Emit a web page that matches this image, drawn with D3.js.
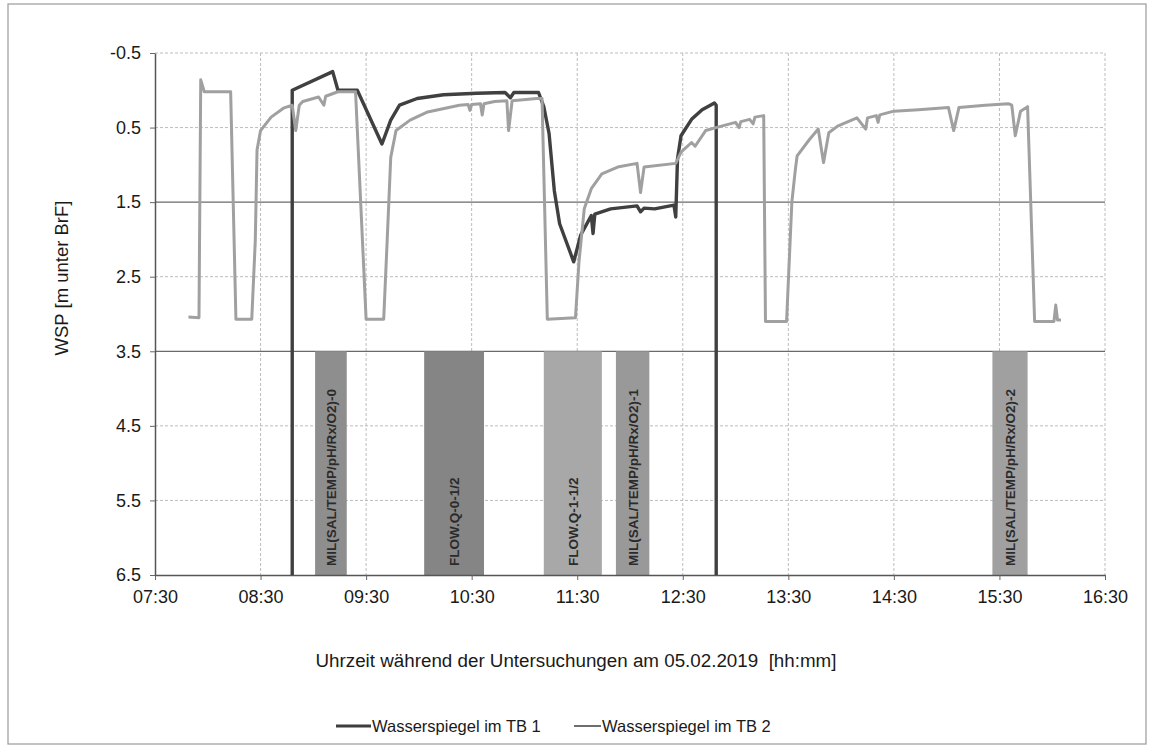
<!DOCTYPE html>
<html>
<head>
<meta charset="utf-8">
<script src="https://cdn.jsdelivr.net/npm/d3@7"></script>
<style>
  body { margin: 0; background: #fff; }
  text { font-family: Arial, "Liberation Sans", sans-serif; fill: #1a1a1a; }
</style>
</head>
<body>
<div id="chart"></div>
<script>
// water level in TB 1 (time, m below BrF)
var tb1Times = ["08:48","08:48","09:11","09:14","09:25","09:39","09:44","09:49","09:59","10:14","10:33","10:49","10:52","10:54","11:08","11:11","11:14","11:17","11:20","11:28","11:32","11:38","11:39","11:40","11:49","12:04","12:06","12:08","12:14","12:25","12:26","12:27","12:29","12:35","12:41","12:48","12:49","12:49"];
var tb1Values = [6.5,0.0,-0.25,0.0,0.0,0.72,0.4,0.2,0.11,0.06,0.04,0.03,0.1,0.03,0.03,0.22,0.58,1.35,1.79,2.3,1.94,1.68,1.92,1.66,1.59,1.55,1.63,1.58,1.59,1.54,1.7,0.92,0.61,0.39,0.26,0.17,0.2,6.5];

// water level in TB 2
var tb2Times = ["07:49","07:55","07:56","07:58","08:13","08:16","08:25","08:27","08:28","08:30","08:36","08:43","08:48","08:50","08:52","08:54","09:03","09:06","09:07","09:14","09:24","09:30","09:40","09:42","09:44","09:47","09:55","10:05","10:23","10:28","10:29","10:30","10:35","10:36","10:37","10:43","10:50","10:51","10:53","11:07","11:10","11:13","11:29","11:31","11:34","11:38","11:44","11:53","12:04","12:06","12:08","12:26","12:29","12:35","12:37","12:43","12:52","13:00","13:02","13:03","13:08","13:10","13:11","13:16","13:17","13:29","13:32","13:34","13:35","13:42","13:47","13:50","13:53","13:58","14:09","14:14","14:15","14:20","14:21","14:22","14:30","14:44","15:01","15:04","15:07","15:22","15:35","15:37","15:39","15:42","15:46","15:50","16:01","16:02","16:03","16:05"];
var tb2Values = [3.04,3.05,-0.14,0.02,0.02,3.07,3.07,2.02,0.8,0.54,0.36,0.24,0.2,0.54,0.2,0.15,0.09,0.2,0.08,0.02,0.02,3.07,3.07,2.0,0.9,0.54,0.4,0.29,0.2,0.19,0.27,0.19,0.18,0.33,0.18,0.15,0.14,0.54,0.14,0.11,0.11,3.07,3.05,2.3,1.59,1.32,1.12,1.03,0.98,1.37,1.03,0.98,0.83,0.7,0.75,0.54,0.48,0.43,0.5,0.42,0.39,0.45,0.36,0.34,3.1,3.1,1.5,1.06,0.88,0.66,0.52,0.97,0.57,0.48,0.37,0.52,0.37,0.34,0.43,0.33,0.28,0.26,0.23,0.54,0.23,0.2,0.18,0.2,0.61,0.28,0.22,3.1,3.1,2.88,3.08,3.08];

// measurement periods shown as shaded bands
var bandStarts = ["09:01","10:03","11:11","11:52","15:26"];
var bandEnds = ["09:19","10:37","11:44","12:11","15:46"];
var bandLabels = ["MIL(SAL/TEMP/pH/Rx/O2)-0","FLOW.Q-0-1/2","FLOW.Q-1-1/2","MIL(SAL/TEMP/pH/Rx/O2)-1","MIL(SAL/TEMP/pH/Rx/O2)-2"];
var bandShades = ["#8e8e8e","#858585","#a8a8a8","#999999","#a0a0a0"];

var xTickLabels = ["07:30","08:30","09:30","10:30","11:30","12:30","13:30","14:30","15:30","16:30"];
var yTicks = [-0.5,0.5,1.5,2.5,3.5,4.5,5.5,6.5];

var svgWidth = 1152;
var svgHeight = 750;
var margin = {top: 53, right: 47, bottom: 175, left: 155};
var width = svgWidth - margin.left - margin.right;
var height = svgHeight - margin.top - margin.bottom;

var parseTime = d3.timeParse("%H:%M");

var svg = d3.select("#chart")
  .append("svg")
  .attr("width", svgWidth)
  .attr("height", svgHeight);

// outer chart frame
svg.append("rect")
  .attr("x", 8).attr("y", 4)
  .attr("width", 1138).attr("height", 740)
  .attr("fill", "none")
  .attr("stroke", "#9a9a9a")
  .attr("stroke-width", 1.2);

var chartGroup = svg.append("g")
  .attr("transform", `translate(${margin.left}, ${margin.top})`);

var xScale = d3.scaleTime()
  .domain([parseTime("07:30"), parseTime("16:30")])
  .range([0, width]);

var yScale = d3.scaleLinear()
  .domain([-0.5, 6.5])
  .range([0, height]);

var xTickDates = xTickLabels.map(parseTime);

// grid
chartGroup.selectAll(".vgrid")
  .data(xTickDates.slice(1))
  .enter().append("line")
  .attr("class", "vgrid")
  .attr("x1", d => xScale(d)).attr("x2", d => xScale(d))
  .attr("y1", 0).attr("y2", height)
  .attr("stroke", "#bcbcbc")
  .attr("stroke-dasharray", "3,2");

chartGroup.selectAll(".hgrid")
  .data(yTicks.slice(0, -1))
  .enter().append("line")
  .attr("class", "hgrid")
  .attr("x1", 0).attr("x2", width)
  .attr("y1", d => yScale(d)).attr("y2", d => yScale(d))
  .attr("stroke", d => (d == 1.5 || d == 3.5) ? "#6a6a6a" : "#bcbcbc")
  .attr("stroke-width", d => (d == 1.5 || d == 3.5) ? 1.3 : 1)
  .attr("stroke-dasharray", d => (d == 1.5 || d == 3.5) ? null : "3,2");

// shaded bands
var bands = bandStarts.map((s, i) => ({
  start: parseTime(s), end: parseTime(bandEnds[i]), label: bandLabels[i], shade: bandShades[i]
}));

chartGroup.selectAll(".band")
  .data(bands)
  .enter().append("rect")
  .attr("class", "band")
  .attr("x", d => xScale(d.start))
  .attr("y", yScale(3.5))
  .attr("width", d => xScale(d.end) - xScale(d.start))
  .attr("height", yScale(6.5) - yScale(3.5))
  .attr("fill", d => d.shade);

chartGroup.selectAll(".bandText")
  .data(bands)
  .enter().append("text")
  .attr("class", "bandText")
  .attr("transform", d => `translate(${(xScale(d.start) + xScale(d.end)) / 2 + 5}, ${yScale(6.5) - 9}) rotate(-90)`)
  .attr("font-family", "'Open Sans', 'Noto Sans', sans-serif")
  .attr("font-size", 13.5)
  .attr("font-weight", 600)
  .style("fill", "#2b2b2b")
  .text(d => d.label);

// axes
var bottomAxis = d3.axisBottom(xScale)
  .tickValues(xTickDates)
  .tickFormat(d3.timeFormat("%H:%M"))
  .tickSize(5)
  .tickSizeOuter(0);
var leftAxis = d3.axisLeft(yScale)
  .tickValues(yTicks)
  .tickFormat(d => d.toFixed(1))
  .tickSize(5)
  .tickSizeOuter(0);

var xAxisG = chartGroup.append("g")
  .attr("transform", `translate(0, ${height})`)
  .call(bottomAxis);
var yAxisG = chartGroup.append("g")
  .call(leftAxis);

[xAxisG, yAxisG].forEach(g => {
  g.select(".domain").attr("stroke", "#555").attr("stroke-width", 1.5);
  g.selectAll(".tick line").attr("stroke", "#666");
  g.selectAll(".tick text")
    .attr("font-size", 18)
    .attr("font-family", "Arial, 'Liberation Sans', sans-serif")
    .style("fill", "#1a1a1a");
});
xAxisG.selectAll(".tick text").attr("y", 15).attr("dy", "0.71em");
yAxisG.selectAll(".tick text").attr("x", -14);

// lines
chartGroup.append("clipPath").attr("id", "plotClip")
  .append("rect").attr("width", width).attr("height", height);

var line = d3.line()
  .x(d => xScale(d.t))
  .y(d => yScale(d.v));

var tb1 = tb1Times.map((t, i) => ({t: parseTime(t), v: tb1Values[i]}));
var tb2 = tb2Times.map((t, i) => ({t: parseTime(t), v: tb2Values[i]}));

chartGroup.append("path")
  .datum(tb1)
  .attr("clip-path", "url(#plotClip)")
  .attr("d", line)
  .attr("fill", "none")
  .attr("stroke", "#404040")
  .attr("stroke-width", 3.4)
  .attr("stroke-linejoin", "round");

chartGroup.append("path")
  .datum(tb2)
  .attr("clip-path", "url(#plotClip)")
  .attr("d", line)
  .attr("fill", "none")
  .attr("stroke", "#a0a0a0")
  .attr("stroke-width", 3)
  .attr("stroke-linejoin", "round");

// axis titles
svg.append("text")
  .attr("transform", "translate(68, 278) rotate(-90)")
  .attr("text-anchor", "middle")
  .attr("font-size", 18.5)
  .text("WSP [m unter BrF]");

svg.append("text")
  .attr("x", 576).attr("y", 667)
  .attr("text-anchor", "middle")
  .attr("font-size", 18.8)
  .style("white-space", "pre")
  .text("Uhrzeit während der Untersuchungen am 05.02.2019  [hh:mm]");

// legend
var legendItems = [
  {label: "Wasserspiegel im TB 1", color: "#3d3d3d", w: 3.2, x: 336},
  {label: "Wasserspiegel im TB 2", color: "#6e6e6e", w: 2, x: 574}
];
var legend = svg.selectAll(".legend")
  .data(legendItems)
  .enter().append("g")
  .attr("class", "legend")
  .attr("transform", d => `translate(${d.x}, 726)`);
legend.append("line")
  .attr("x1", 0).attr("x2", d => d.x < 400 ? 35 : 27)
  .attr("stroke", d => d.color)
  .attr("stroke-width", d => d.w);
legend.append("text")
  .attr("x", d => d.x < 400 ? 36 : 28).attr("y", 6)
  .attr("font-size", 16.5)
  .text(d => d.label);
</script>
</body>
</html>
